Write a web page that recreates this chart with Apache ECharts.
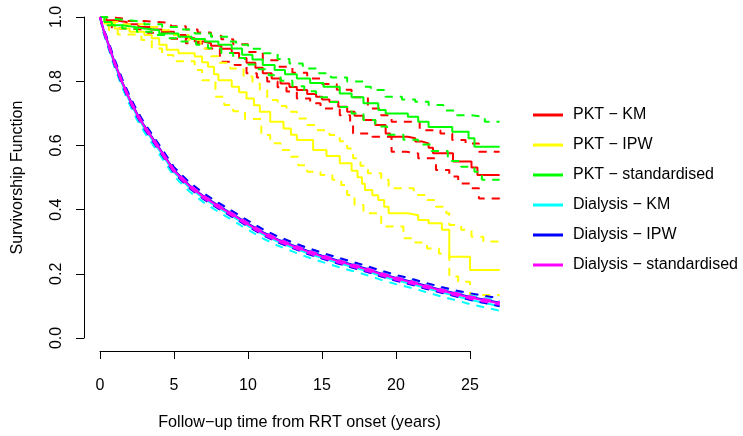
<!DOCTYPE html>
<html>
<head>
<meta charset="utf-8">
<script src="https://cdn.jsdelivr.net/npm/echarts@6/dist/echarts.min.js"></script>
<style>
  html, body { margin: 0; padding: 0; background: #fff; }
  #main { width: 743px; height: 436px; }
</style>
</head>
<body>
<div id="main"></div>
<script>
// tick labels
const xTicks = [0, 5, 10, 15, 20, 25];
const yTicks = [0, 0.2, 0.4, 0.6, 0.8, 1.0];

// PKT - KM (red), step curves
const pktKmT = [0, 0.4, 1.0, 1.8, 2.6, 3.4, 4.2, 5.0, 5.8, 6.4, 7.0, 7.5, 8.2, 8.9, 9.4, 9.9, 10.5, 11.0, 11.6, 12.2, 12.8, 13.3, 14.0, 14.6, 15.0, 15.5, 16.1, 16.7, 17.2, 17.8, 18.6, 19.3, 19.6, 20.8, 21.3, 21.8, 22.2, 22.5, 23.85, 25.1, 25.5, 27.0];
const pktKm = [1, 0.99, 0.985, 0.978, 0.97, 0.962, 0.955, 0.945, 0.935, 0.925, 0.92, 0.912, 0.903, 0.89, 0.875, 0.86, 0.845, 0.828, 0.812, 0.797, 0.786, 0.777, 0.765, 0.756, 0.748, 0.741, 0.726, 0.71, 0.698, 0.685, 0.67, 0.644, 0.634, 0.629, 0.619, 0.613, 0.6, 0.583, 0.558, 0.54, 0.517, 0.517];
const pktKmHiT = [0, 0.5, 1.7, 3.0, 4.8, 5.8, 6.6, 7.5, 8.2, 9.0, 10.0, 11.0, 12.0, 13.0, 14.0, 15.0, 16.0, 17.0, 18.1, 19.0, 19.7, 21.6, 23.0, 23.8, 24.7, 25.6, 27.0];
const pktKmHi = [1, 0.995, 0.988, 0.982, 0.972, 0.962, 0.953, 0.943, 0.932, 0.917, 0.893, 0.868, 0.848, 0.83, 0.812, 0.795, 0.778, 0.755, 0.72, 0.7, 0.68, 0.654, 0.644, 0.624, 0.613, 0.588, 0.588];
const pktKmLoT = [0, 0.8, 2.0, 3.2, 4.8, 5.8, 6.9, 8.1, 9.1, 9.9, 10.6, 11.3, 12.0, 12.6, 13.3, 14.2, 14.9, 16.2, 16.9, 17.1, 18.4, 19.7, 20.7, 21.5, 22.7, 23.6, 24.2, 25.0, 25.6, 27.0];
const pktKmLo = [1, 0.965, 0.96, 0.952, 0.934, 0.92, 0.904, 0.863, 0.853, 0.828, 0.815, 0.803, 0.785, 0.772, 0.751, 0.736, 0.72, 0.7, 0.67, 0.644, 0.634, 0.588, 0.583, 0.568, 0.532, 0.512, 0.491, 0.476, 0.445, 0.44];

// PKT - IPW (yellow)
const pktIpwT = [0, 0.3, 1.0, 2.0, 3.0, 3.5, 4.0, 4.5, 5.3, 6.4, 6.9, 7.3, 7.7, 8.0, 8.9, 9.4, 9.9, 10.4, 10.8, 11.5, 12.4, 12.9, 13.3, 14.4, 15.3, 16.2, 17.0, 17.4, 17.7, 17.9, 18.4, 18.8, 19.2, 19.5, 20.8, 21.5, 22.2, 23.1, 23.6, 25.0, 27.0];
const pktIpw = [1, 0.98, 0.965, 0.955, 0.945, 0.935, 0.915, 0.9, 0.889, 0.879, 0.862, 0.848, 0.825, 0.807, 0.787, 0.77, 0.751, 0.73, 0.71, 0.68, 0.659, 0.64, 0.624, 0.593, 0.575, 0.553, 0.53, 0.51, 0.49, 0.471, 0.455, 0.44, 0.42, 0.4, 0.394, 0.379, 0.369, 0.349, 0.267, 0.226, 0.226];
const pktIpwHiT = [0, 0.5, 1.5, 3.0, 4.0, 5.0, 6.0, 6.8, 7.5, 8.0, 8.8, 9.7, 10.3, 10.8, 11.3, 12.0, 12.6, 13.3, 14.0, 14.6, 15.5, 16.2, 16.7, 17.1, 17.6, 18.1, 19.0, 19.5, 21.2, 22.1, 22.7, 23.4, 23.6, 24.4, 25.1, 25.9, 27.0];
const pktIpwHi = [1, 0.985, 0.978, 0.97, 0.96, 0.945, 0.93, 0.904, 0.88, 0.86, 0.843, 0.818, 0.797, 0.777, 0.746, 0.728, 0.71, 0.69, 0.67, 0.654, 0.639, 0.62, 0.598, 0.568, 0.545, 0.522, 0.502, 0.476, 0.456, 0.44, 0.42, 0.4, 0.364, 0.349, 0.328, 0.313, 0.313];
const pktIpwLoT = [0, 0.3, 0.6, 1.2, 2.8, 3.5, 4.2, 4.95, 6.4, 6.9, 7.8, 8.4, 9.0, 9.8, 10.9, 11.5, 12.2, 12.8, 13.4, 14.0, 14.9, 15.7, 16.3, 16.7, 17.2, 17.8, 19.0, 20.5, 21.3, 22.1, 22.9, 23.6, 24.2, 25.0, 27.0];
const pktIpwLo = [1, 0.975, 0.96, 0.947, 0.93, 0.904, 0.884, 0.865, 0.838, 0.807, 0.756, 0.731, 0.712, 0.688, 0.639, 0.614, 0.593, 0.573, 0.547, 0.527, 0.517, 0.502, 0.486, 0.456, 0.425, 0.4, 0.359, 0.323, 0.31, 0.292, 0.277, 0.206, 0.19, 0.15, 0.15];

// PKT - standardised (green)
const pktStdT = [0, 0.3, 0.8, 1.5, 2.3, 3.0, 4.0, 5.3, 6.2, 7.1, 8.0, 8.9, 9.6, 10.3, 11.0, 11.8, 12.5, 13.3, 14.2, 15.1, 16.2, 17.0, 17.8, 18.8, 19.3, 20.8, 21.5, 22.2, 23.8, 24.9, 25.3, 27.0];
const pktStd = [1, 0.985, 0.975, 0.97, 0.965, 0.96, 0.95, 0.94, 0.933, 0.925, 0.915, 0.904, 0.885, 0.87, 0.853, 0.838, 0.825, 0.812, 0.798, 0.787, 0.766, 0.755, 0.736, 0.716, 0.705, 0.695, 0.68, 0.664, 0.649, 0.629, 0.603, 0.603];
const pktStdHiT = [0, 0.3, 0.8, 2.0, 3.0, 4.2, 5.3, 6.4, 7.5, 8.7, 9.2, 10.0, 11.0, 12.0, 12.8, 13.7, 14.6, 15.6, 16.7, 17.8, 18.3, 19.3, 20.4, 21.3, 22.2, 23.2, 24.0, 25.0, 26.0, 27.0];
const pktStdHi = [1, 0.995, 0.99, 0.985, 0.978, 0.97, 0.962, 0.95, 0.94, 0.925, 0.915, 0.903, 0.889, 0.872, 0.858, 0.843, 0.828, 0.815, 0.803, 0.787, 0.777, 0.756, 0.748, 0.741, 0.731, 0.714, 0.7, 0.695, 0.68, 0.68];
const pktStdLoT = [0, 0.5, 1.5, 2.5, 3.5, 4.5, 5.5, 6.5, 7.3, 8.2, 9.0, 9.8, 10.6, 11.4, 12.2, 13.0, 13.8, 14.6, 15.4, 16.2, 17.0, 17.8, 18.6, 19.4, 20.5, 21.5, 22.4, 23.5, 24.4, 25.3, 25.8, 27.0];
const pktStdLo = [1, 0.975, 0.965, 0.955, 0.945, 0.935, 0.925, 0.915, 0.905, 0.89, 0.875, 0.855, 0.84, 0.822, 0.805, 0.788, 0.773, 0.755, 0.74, 0.725, 0.705, 0.685, 0.665, 0.64, 0.625, 0.61, 0.59, 0.56, 0.542, 0.527, 0.502, 0.502];

// Dialysis curves share one time grid
const dialT = [0, 0.25, 0.5, 1, 1.5, 2, 2.5, 3, 4, 5, 6, 7, 8, 9, 10, 11, 12, 13, 14, 15, 16, 17, 18, 19, 20, 21, 22, 23, 24, 25, 26, 27];
const dialKm = [1, 0.955, 0.921, 0.853, 0.795, 0.743, 0.698, 0.66, 0.593, 0.525, 0.48, 0.445, 0.416, 0.389, 0.361, 0.335, 0.313, 0.295, 0.278, 0.263, 0.249, 0.236, 0.223, 0.208, 0.195, 0.184, 0.171, 0.159, 0.147, 0.135, 0.125, 0.115];
const dialKmLo = [1, 0.95, 0.914, 0.844, 0.785, 0.732, 0.686, 0.648, 0.581, 0.513, 0.468, 0.433, 0.404, 0.377, 0.349, 0.323, 0.301, 0.283, 0.266, 0.251, 0.237, 0.224, 0.211, 0.196, 0.183, 0.172, 0.159, 0.146, 0.134, 0.122, 0.112, 0.102];
const dialKmHi = [1, 0.961, 0.93, 0.864, 0.807, 0.755, 0.711, 0.673, 0.606, 0.538, 0.493, 0.458, 0.429, 0.402, 0.374, 0.347, 0.325, 0.307, 0.29, 0.275, 0.261, 0.248, 0.235, 0.22, 0.207, 0.196, 0.183, 0.171, 0.16, 0.149, 0.14, 0.131];
const dialIpw = [1, 0.959, 0.927, 0.86, 0.802, 0.75, 0.705, 0.667, 0.6, 0.532, 0.487, 0.452, 0.423, 0.396, 0.368, 0.342, 0.32, 0.302, 0.285, 0.27, 0.256, 0.243, 0.23, 0.215, 0.202, 0.191, 0.178, 0.166, 0.155, 0.144, 0.135, 0.126];
const dialIpwLo = [1, 0.954, 0.919, 0.851, 0.793, 0.741, 0.696, 0.658, 0.591, 0.523, 0.478, 0.443, 0.414, 0.387, 0.359, 0.333, 0.311, 0.293, 0.276, 0.261, 0.247, 0.234, 0.221, 0.206, 0.193, 0.182, 0.169, 0.157, 0.146, 0.135, 0.125, 0.115];
const dialIpwHi = [1, 0.963, 0.934, 0.869, 0.811, 0.759, 0.714, 0.676, 0.609, 0.541, 0.496, 0.461, 0.432, 0.405, 0.377, 0.351, 0.329, 0.311, 0.294, 0.279, 0.265, 0.252, 0.239, 0.224, 0.211, 0.2, 0.187, 0.175, 0.164, 0.155, 0.147, 0.14];
const dialStd = [1, 0.958, 0.925, 0.858, 0.8, 0.748, 0.703, 0.665, 0.598, 0.53, 0.485, 0.45, 0.421, 0.394, 0.366, 0.34, 0.318, 0.3, 0.283, 0.268, 0.254, 0.241, 0.228, 0.213, 0.2, 0.189, 0.176, 0.164, 0.153, 0.142, 0.133, 0.124];
const dialStdLo = [1, 0.956, 0.922, 0.854, 0.796, 0.744, 0.699, 0.661, 0.594, 0.526, 0.481, 0.446, 0.417, 0.39, 0.362, 0.336, 0.314, 0.296, 0.279, 0.264, 0.25, 0.237, 0.224, 0.209, 0.196, 0.185, 0.172, 0.16, 0.149, 0.138, 0.129, 0.12];
const dialStdHi = [1, 0.961, 0.929, 0.862, 0.804, 0.752, 0.707, 0.669, 0.602, 0.534, 0.489, 0.454, 0.425, 0.398, 0.37, 0.344, 0.322, 0.304, 0.287, 0.272, 0.258, 0.245, 0.232, 0.217, 0.204, 0.193, 0.18, 0.168, 0.157, 0.146, 0.137, 0.128];

const font = 'Liberation Sans, Arial, sans-serif';
const dash = [8, 7];

function pairs(t, s) {
  return t.map((x, i) => [x, s[i]]);
}

function curve(name, color, t, s, dashed, step) {
  return {
    name: name,
    type: 'line',
    xAxisIndex: 0,
    yAxisIndex: 0,
    data: pairs(t, s),
    step: step ? 'end' : false,
    symbol: 'none',
    silent: true,
    color: color,
    lineStyle: { color: color, width: 2, type: dashed ? dash : 'solid' },
    emphasis: { disabled: true }
  };
}

const legendNames = ['PKT − KM', 'PKT − IPW', 'PKT − standardised', 'Dialysis − KM', 'Dialysis − IPW', 'Dialysis − standardised'];

const chart = echarts.init(document.getElementById('main'));

// grid 0: whole plot region (R pads the data range by 4%), holds the curves
// grid 1: the tick range only, draws the visible axes
chart.setOption({
  animation: false,
  backgroundColor: '#fff',
  textStyle: { fontFamily: font, color: '#000' },
  grid: [
    { left: 84, right: 227.4, top: 4, bottom: 79 },
    { left: 100, right: 273, top: 17, bottom: 92 }
  ],
  legend: {
    data: legendNames,
    orient: 'vertical',
    left: 528,
    top: 102,
    icon: 'rect',
    itemWidth: 30,
    itemHeight: 3,
    itemGap: 14,
    selectedMode: false,
    textStyle: { fontFamily: font, fontSize: 16, color: '#000', padding: [0, 0, 0, 5] }
  },
  xAxis: [{
    gridIndex: 0,
    type: 'value',
    min: -1.08,
    max: 28.08,
    show: false
  }, {
    gridIndex: 1,
    type: 'value',
    min: 0,
    max: 25,
    interval: 5,
    offset: 13,
    splitLine: { show: false },
    axisLine: { onZero: false, lineStyle: { color: '#000', width: 1 } },
    axisTick: { length: 8, lineStyle: { color: '#000' }, customValues: xTicks },
    axisLabel: { fontFamily: font, fontSize: 16, color: '#000', margin: 27, customValues: xTicks },
    name: 'Follow−up time from RRT onset (years)',
    nameLocation: 'middle',
    nameGap: 64,
    nameTextStyle: { fontFamily: font, fontSize: 16.2, color: '#000', padding: [0, 0, 0, 29] }
  }],
  yAxis: [{
    gridIndex: 0,
    type: 'value',
    min: -0.04,
    max: 1.04,
    show: false
  }, {
    gridIndex: 1,
    type: 'value',
    min: 0,
    max: 1,
    interval: 0.2,
    offset: 16,
    splitLine: { show: false },
    axisLine: { show: true, onZero: false, lineStyle: { color: '#000', width: 1 } },
    axisTick: { show: true, length: 8, lineStyle: { color: '#000' }, customValues: yTicks },
    axisLabel: {
      fontFamily: font, fontSize: 16, color: '#000', margin: 19, rotate: 90,
      customValues: yTicks,
      formatter: v => v.toFixed(1)
    },
    name: 'Survivorship Function',
    nameLocation: 'middle',
    nameGap: 58,
    nameTextStyle: { fontFamily: font, fontSize: 16, color: '#000' }
  }],
  series: [
    curve('PKT − KM', '#ff0000', pktKmT, pktKm, false, true),
    curve('PKT − KM upper', '#ff0000', pktKmHiT, pktKmHi, true, true),
    curve('PKT − KM lower', '#ff0000', pktKmLoT, pktKmLo, true, true),
    curve('PKT − IPW', '#ffff00', pktIpwT, pktIpw, false, true),
    curve('PKT − IPW upper', '#ffff00', pktIpwHiT, pktIpwHi, true, true),
    curve('PKT − IPW lower', '#ffff00', pktIpwLoT, pktIpwLo, true, true),
    curve('PKT − standardised', '#00ff00', pktStdT, pktStd, false, true),
    curve('PKT − standardised upper', '#00ff00', pktStdHiT, pktStdHi, true, true),
    curve('PKT − standardised lower', '#00ff00', pktStdLoT, pktStdLo, true, true),
    curve('Dialysis − KM', '#00ffff', dialT, dialKm, false, false),
    curve('Dialysis − KM upper', '#00ffff', dialT, dialKmHi, true, false),
    curve('Dialysis − KM lower', '#00ffff', dialT, dialKmLo, true, false),
    curve('Dialysis − IPW', '#0000ff', dialT, dialIpw, false, false),
    curve('Dialysis − IPW upper', '#0000ff', dialT, dialIpwHi, true, false),
    curve('Dialysis − IPW lower', '#0000ff', dialT, dialIpwLo, true, false),
    curve('Dialysis − standardised', '#ff00ff', dialT, dialStd, false, false),
    curve('Dialysis − standardised upper', '#ff00ff', dialT, dialStdHi, true, false),
    curve('Dialysis − standardised lower', '#ff00ff', dialT, dialStdLo, true, false)
  ]
});
</script>
</body>
</html>
